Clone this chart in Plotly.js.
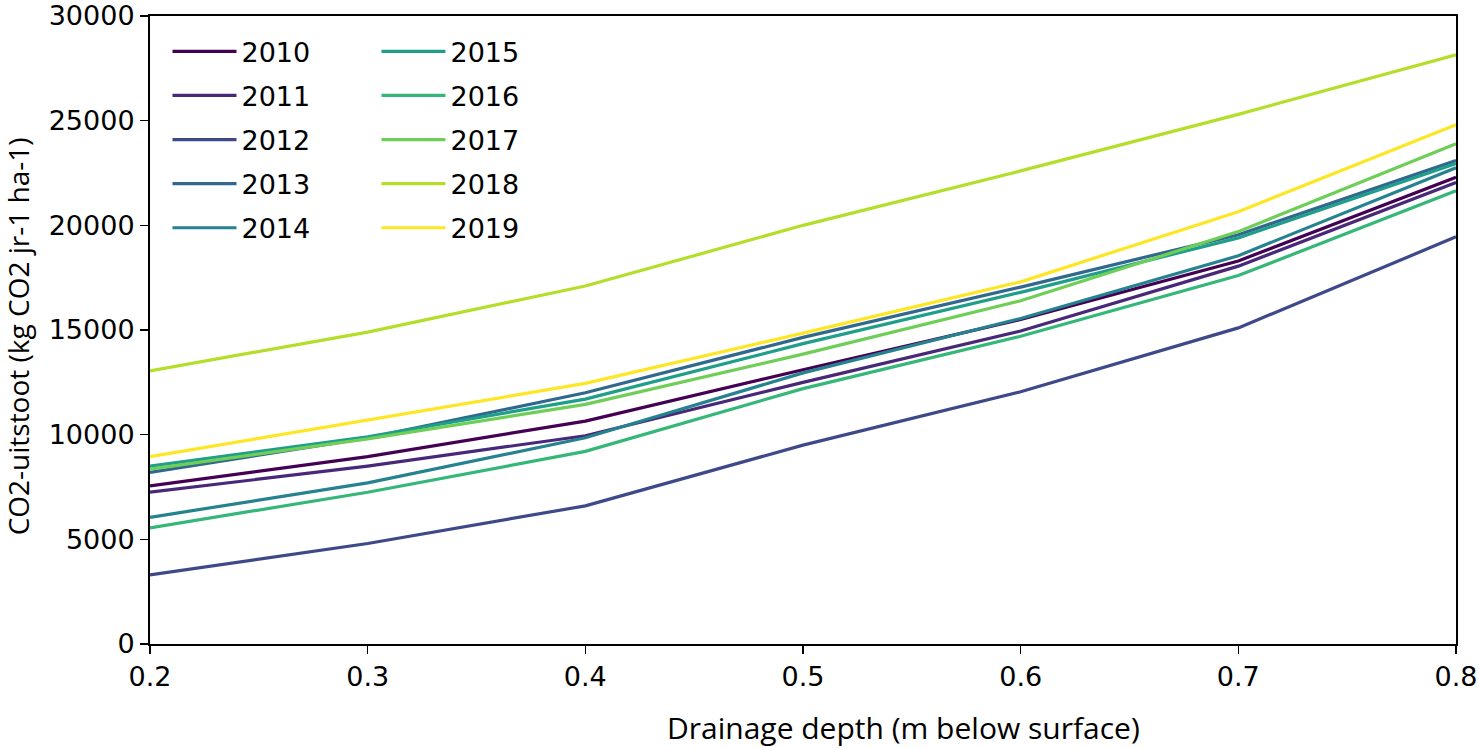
<!DOCTYPE html>
<html>
<head>
<meta charset="utf-8">
<script src="https://cdn.plot.ly/plotly-3.0.1.min.js"></script>
<style>html,body{margin:0;padding:0;background:#fff;}#chart{width:1479px;height:748px;}</style>
</head>
<body>
<div id="chart"></div>
<script>
const depths = [0.2, 0.3, 0.4, 0.5, 0.6, 0.7, 0.8];
const years = ['2010','2011','2012','2013','2014','2015','2016','2017','2018','2019'];
const y2010 = [7550, 8950, 10650, 13100, 15500, 18300, 22300];
const y2011 = [7250, 8500, 9950, 12500, 14950, 18050, 22050];
const y2012 = [3300, 4800, 6600, 9500, 12050, 15100, 19450];
const y2013 = [8200, 9850, 12000, 14650, 17050, 19550, 23100];
const y2014 = [6050, 7700, 9850, 12950, 15550, 18550, 22750];
const y2015 = [8500, 9900, 11700, 14350, 16800, 19400, 22950];
const y2016 = [5550, 7250, 9200, 12200, 14700, 17600, 21650];
const y2017 = [8350, 9800, 11450, 13850, 16400, 19700, 23900];
const y2018 = [13050, 14900, 17100, 20000, 22600, 25300, 28150];
const y2019 = [8950, 10700, 12450, 14850, 17300, 20650, 24800];
const xTicks = [0.2, 0.3, 0.4, 0.5, 0.6, 0.7, 0.8];
const xTickText = ['0.2','0.3','0.4','0.5','0.6','0.7','0.8'];
const yTicks = [0, 5000, 10000, 15000, 20000, 25000, 30000];
const yTickText = ['0','5000','10000','15000','20000','25000','30000'];
const colors = ['#440154','#482878','#3e4989','#31688e','#26828e','#1f9e89','#35b779','#6ece58','#b5de2b','#fde725'];
const series = [y2010,y2011,y2012,y2013,y2014,y2015,y2016,y2017,y2018,y2019];

const traces = series.map((s,i)=>({
  x: depths, y: s, type:'scatter', mode:'lines', name: years[i],
  line:{color: colors[i], width:3.2},
  legend: i < 5 ? 'legend' : 'legend2',
  legendgroup: 'g'+i
}));

const legendCommon = {
  font:{family:'DejaVu Sans', size:27, color:'#000'},
  bgcolor:'rgba(0,0,0,0)', borderwidth:0,
  tracegroupgap: 6, yanchor:'top', xanchor:'left', itemwidth:64
};

const tickFont = {family:'DejaVu Sans', size:27, color:'#000'};

const layout = {
  width:1479, height:748,
  margin:{l:150, r:23, t:16, b:104},
  paper_bgcolor:'#fff', plot_bgcolor:'#fff',
  showlegend:true,
  legend: Object.assign({x:0.0134, y:0.982}, legendCommon),
  legend2: Object.assign({x:0.1734, y:0.982}, legendCommon),
  xaxis:{
    range:[0.2,0.8], tickvals:xTicks, ticktext:xTickText,
    showgrid:false, zeroline:false,
    showline:true, linecolor:'#000', linewidth:2, mirror:true,
    ticks:'outside', ticklen:8, tickwidth:1.5, tickcolor:'#000',
    tickfont:tickFont
  },
  yaxis:{
    range:[0,30000], tickvals:yTicks, ticktext:yTickText,
    showgrid:false, zeroline:false,
    showline:true, linecolor:'#000', linewidth:2, mirror:true,
    ticks:'outside', ticklen:8, tickwidth:1.5, tickcolor:'#000',
    tickfont:tickFont
  },
  annotations:[
    {text:'Drainage depth (m below surface)', xref:'paper', yref:'paper',
     x:0.577, y:-0.1325, xanchor:'center', yanchor:'middle', showarrow:false,
     font:{family:'Open Sans', size:30, color:'#000'}},
    {text:'CO2-uitstoot (kg CO2 jr-1 ha-1)', xref:'paper', yref:'paper',
     x:-0.101, y:0.49, xanchor:'center', yanchor:'middle', showarrow:false, textangle:-90,
     font:{family:'Open Sans', size:28, color:'#000'}}
  ]
};

Plotly.newPlot('chart', traces, layout, {displayModeBar:false, staticPlot:true});
</script>
</body>
</html>
